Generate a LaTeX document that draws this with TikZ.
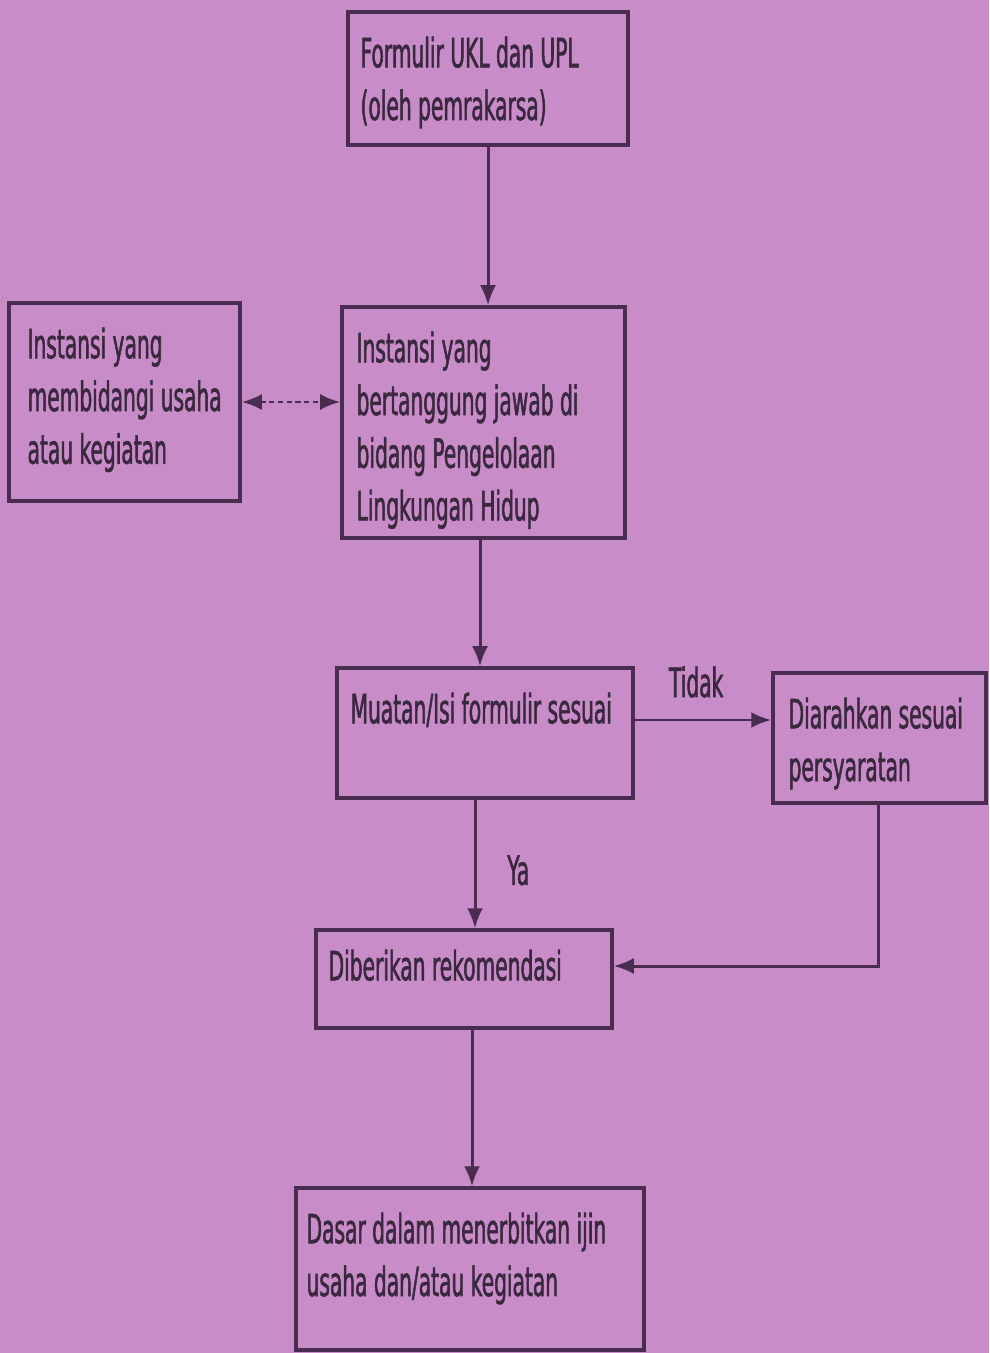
\documentclass[tikz,border=0pt]{standalone}
\usepackage{fontspec}
\setmainfont{DejaVu Sans}[FakeStretch=0.5,FakeBold=1.3]
\usetikzlibrary{arrows.meta}
\definecolor{bgpink}{RGB}{200,140,200}
\definecolor{ink}{RGB}{74,44,80}
\definecolor{txtink}{RGB}{58,40,62}
\tikzset{
  kotak/.style={draw=ink,line width=2pt,inner sep=0pt},
  isi/.style={anchor=north west,inner sep=0pt,align=left,text=txtink,
    font=\fontsize{23}{30}\selectfont},
  panah/.style={draw=ink,line width=1.7pt,-{Latex[length=4mm,width=3.2mm]}},
}
\begin{document}
\begin{tikzpicture}
\fill[bgpink] (0,0) rectangle (19.78,-27.06);
\useasboundingbox (0,0) rectangle (19.78,-27.06);
% kotak
\node[kotak,minimum width=5.6cm,minimum height=2.66cm] (form) at (9.76,-1.57) {};
\node[kotak,minimum width=5.66cm,minimum height=4.62cm] (instlh) at (9.67,-8.45) {};
\node[kotak,minimum width=4.62cm,minimum height=3.96cm] (instus) at (2.49,-8.04) {};
\node[kotak,minimum width=5.92cm,minimum height=2.6cm] (muatan) at (9.70,-14.66) {};
\node[kotak,minimum width=4.26cm,minimum height=2.6cm] (arah) at (17.59,-14.76) {};
\node[kotak,minimum width=5.92cm,minimum height=1.96cm] (rekom) at (9.28,-19.58) {};
\node[kotak,minimum width=6.96cm,minimum height=3.24cm] (dasar) at (9.40,-25.38) {};
% teks
\node[isi] (form-t) at ([shift={(0.28,-0.52)}]form.north west) {Formulir UKL dan UPL\\(oleh pemrakarsa)};
\node[isi] (instlh-t) at ([shift={(0.32,-0.52)}]instlh.north west) {Instansi yang\\bertanggung jawab di\\bidang Pengelolaan\\Lingkungan Hidup};
\node[isi] (instus-t) at ([shift={(0.4,-0.52)}]instus.north west) {Instansi yang\\membidangi usaha\\atau kegiatan};
\node[isi] (muatan-t) at ([shift={(0.3,-0.52)}]muatan.north west) {Muatan/Isi formulir sesuai};
\node[isi] (arah-t) at ([shift={(0.34,-0.52)}]arah.north west) {Diarahkan sesuai\\persyaratan};
\node[isi] (rekom-t) at ([shift={(0.28,-0.42)}]rekom.north west) {Diberikan rekomendasi};
\node[isi] (dasar-t) at ([shift={(0.24,-0.52)}]dasar.north west) {Dasar dalam menerbitkan ijin\\usaha dan/atau kegiatan};
% panah
\draw[panah] (form.south) -- (form.south |- instlh.north);
\draw[panah,{Latex[length=4mm,width=3.2mm]}-{Latex[length=4mm,width=3.2mm]},dash pattern=on 3pt off 2pt] (instus.east) -- (instus.east -| instlh.west);
\draw[panah] ([xshift=-0.07cm]instlh.south) -- ([xshift=-0.07cm]instlh.south |- muatan.north);
\draw[panah] ([yshift=0.26cm]muatan.east) -- ([yshift=0.26cm]muatan.east -| arah.west) node[pos=0.45,above=0.3cm,text=txtink,font=\fontsize{23}{30}\selectfont] (tidak) {Tidak};
\draw[panah] ([xshift=-0.2cm]muatan.south) -- ([xshift=-0.2cm]muatan.south |- rekom.north) node[pos=0.55,right=0.5cm,text=txtink,font=\fontsize{23}{30}\selectfont] (ya) {Ya};
\draw[panah] ([xshift=-0.03cm]arah.south) |- ([yshift=0.26cm]rekom.east);
\draw[panah] ([xshift=0.16cm]rekom.south) -- ([xshift=0.16cm]rekom.south |- dasar.north);
\end{tikzpicture}
\end{document}
